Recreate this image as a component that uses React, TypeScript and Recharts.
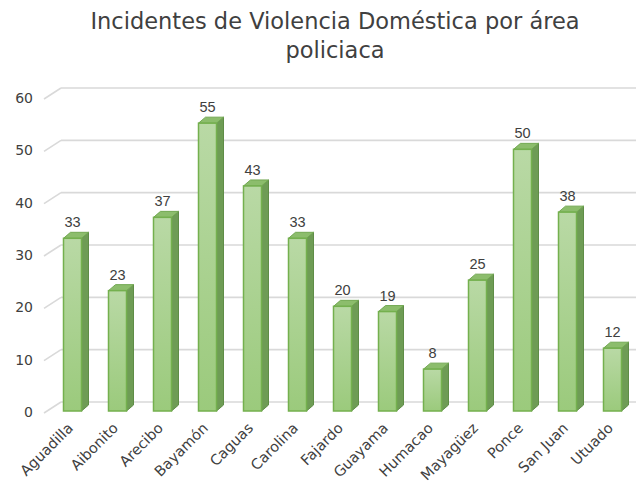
import React from "react";
import { BarChart, Bar, XAxis, YAxis, CartesianGrid, LabelList } from "recharts";

const areas = [
  "Aguadilla",
  "Aibonito",
  "Arecibo",
  "Bayamón",
  "Caguas",
  "Carolina",
  "Fajardo",
  "Guayama",
  "Humacao",
  "Mayagüez",
  "Ponce",
  "San Juan",
  "Utuado",
];
const incidents = [33, 23, 37, 55, 43, 33, 20, 19, 8, 25, 50, 38, 12];
const yTicks = [0, 10, 20, 30, 40, 50, 60];

const data = areas.map((area, i) => ({ area, incidents: incidents[i] }));

const FONT = "'DejaVu Sans', sans-serif";
const DX = 7;
const DY = 6;

function Bar3D(props: any) {
  const { x, y, width, height } = props;
  if (height == null || height <= 0) return null;
  const r = x + width;
  const b = y + height;
  return (
    <g>
      <polygon
        points={`${r},${y} ${r + DX},${y - DY} ${r + DX},${b - DY} ${r},${b}`}
        fill="#6e9c55"
        stroke="#5f8d47"
        strokeWidth={1}
      />
      <polygon
        points={`${x},${y} ${x + DX},${y - DY} ${r + DX},${y - DY} ${r},${y}`}
        fill="#8cbd6c"
        stroke="#72a852"
        strokeWidth={1}
      />
      <rect x={x} y={y} width={width} height={height} fill="url(#barFront)" stroke="#74b04e" strokeWidth={1.5} />
    </g>
  );
}

function GridLine(props: any) {
  const { y1 } = props;
  return (
    <g key={props.key}>
      <line x1={44} y1={y1 + 2} x2={61} y2={y1 - 9} stroke="#d9d9d9" strokeWidth={1.6} />
      <line x1={61} y1={y1 - 9} x2={636} y2={y1 - 9} stroke="#d9d9d9" strokeWidth={1.6} />
    </g>
  );
}

function YTick(props: any) {
  const { y, payload } = props;
  return (
    <text x={33} y={y + 2} textAnchor="end" dominantBaseline="middle" fontFamily={FONT} fontSize={14} fill="#404040">
      {payload.value}
    </text>
  );
}

function XTick(props: any) {
  const { x, y, payload } = props;
  const tx = x + 2;
  const ty = y + 10;
  return (
    <text
      x={tx}
      y={ty}
      transform={`rotate(-45, ${tx}, ${ty})`}
      textAnchor="end"
      fontFamily={FONT}
      fontSize={14.5}
      fill="#404040"
    >
      {payload.value}
    </text>
  );
}

export default function App() {
  return (
    <div style={{ position: "absolute", left: 0, top: 0, width: 636, height: 487, background: "#fff" }}>
      <div
        style={{
          position: "absolute",
          top: 7,
          left: 0,
          width: 636,
          textAlign: "center",
          fontFamily: FONT,
          fontSize: 22.5,
          lineHeight: "29px",
          color: "#404040",
          paddingLeft: 34,
          boxSizing: "border-box",
        }}
      >
        Incidentes de Violencia Doméstica por área
        <br />
        policiaca
      </div>
      <BarChart
        width={636}
        height={487}
        data={data}
        margin={{ top: 97, right: 1.5, bottom: 0, left: 0 }}
        barSize={18}
      >
        <defs>
          <linearGradient id="barFront" x1="0" y1="0" x2="0" y2="1">
            <stop offset="0%" stopColor="#b9d9a5" />
            <stop offset="100%" stopColor="#9bca7c" />
          </linearGradient>
        </defs>
        <CartesianGrid vertical={false} horizontal={(p: any) => <GridLine {...p} />} />
        <XAxis dataKey="area" axisLine={false} tickLine={false} interval={0} height={76} tick={<XTick />} />
        <YAxis
          width={49.5}
          domain={[0, 60]}
          ticks={yTicks}
          axisLine={false}
          tickLine={false}
          tick={<YTick />}
        />
        <Bar dataKey="incidents" shape={<Bar3D />} isAnimationActive={false}>
          <LabelList
            dataKey="incidents"
            position="top"
            offset={11}
            fontFamily="'Liberation Sans', Arial, sans-serif"
            fontSize={14.5}
            fill="#404040"
          />
        </Bar>
      </BarChart>
    </div>
  );
}
